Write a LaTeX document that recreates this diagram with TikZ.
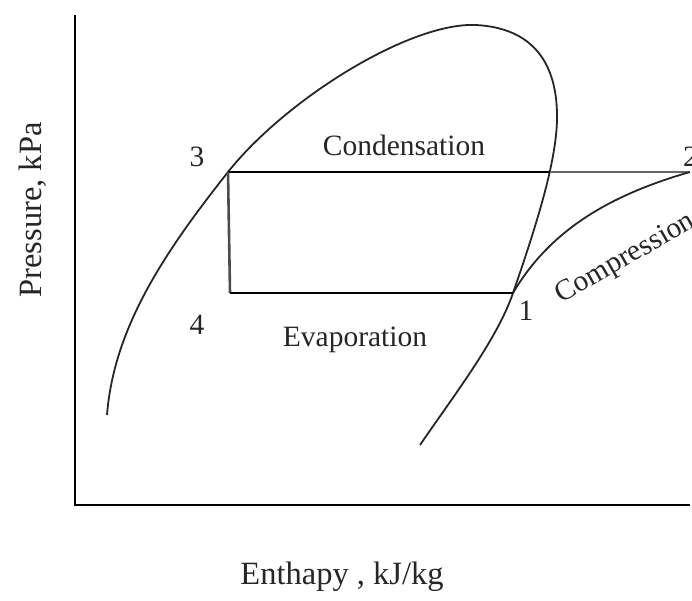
\documentclass[tikz,border=0pt]{standalone}
\usepackage{fontspec}
\setmainfont{Liberation Serif}
\begin{document}
\begin{tikzpicture}[x=1pt,y=-1pt,
  curveline/.style={line width=1.8pt,black!85},
  cycleline/.style={line width=2.6pt,black},
  axisline/.style={line width=2.8pt,black},
  lbl/.style={font=\fontsize{29.5}{31}\selectfont,text=black!85,inner sep=0pt},
  axlbl/.style={font=\fontsize{32.5}{34}\selectfont,text=black!85,inner sep=0pt}]
\useasboundingbox (0,0) rectangle (692,600);
% axes
\coordinate (o) at (75,505);
\coordinate (ytop) at (75,15);
\coordinate (xend) at (690,505);
\draw[axisline] (ytop) -- (o) -- (xend);
% cycle points
\coordinate (p3) at (228,172);
\coordinate (p4) at (230,293);
\coordinate (p1) at (513,293);
\coordinate (p2) at (690,172);
\coordinate (c) at (550,172);
\coordinate (dl) at (107,415);
\coordinate (dt) at (476,25);
\coordinate (dr) at (557,120);
\coordinate (de) at (420,445);
% saturation dome
\draw[curveline] (dl) .. controls (114,325) and (168,248) .. (p3)
  .. controls (286,99) and (410,22) .. (dt)
  .. controls (532,28) and (558,62) .. (dr)
  .. controls (556,160) and (540,215) .. (p1)
  .. controls (497,340) and (452,398) .. (de);
\draw[cycleline] (p3) -- (c);
\draw[line width=2.6pt,black!60] (c) -- (p2);
\draw[line width=2.6pt,black!70] (p3) -- (p4);
\draw[cycleline] (p4) -- (p1);
\draw[curveline] (p1) .. controls (550,230) and (610,195) .. (p2);
% labels
\node[lbl] (n3) at (197,157) {3};
\node[lbl] (n4) at (197,325) {4};
\node[lbl] (n1) at (526,311) {1};
\node[lbl,anchor=east] (n2) at (698,157) {2};
\node[lbl] (cond) at (404,145) {Condensation};
\node[lbl] (evap) at (355,340) {Evaporation};
\node[lbl,rotate=30] (comp) at (626,259) {Compression};
\node[axlbl,rotate=90] (yl) at (33,210) {Pressure, kPa};
\node[axlbl] (xl) at (342,577) {Enthapy , kJ/kg};
\end{tikzpicture}
\end{document}
